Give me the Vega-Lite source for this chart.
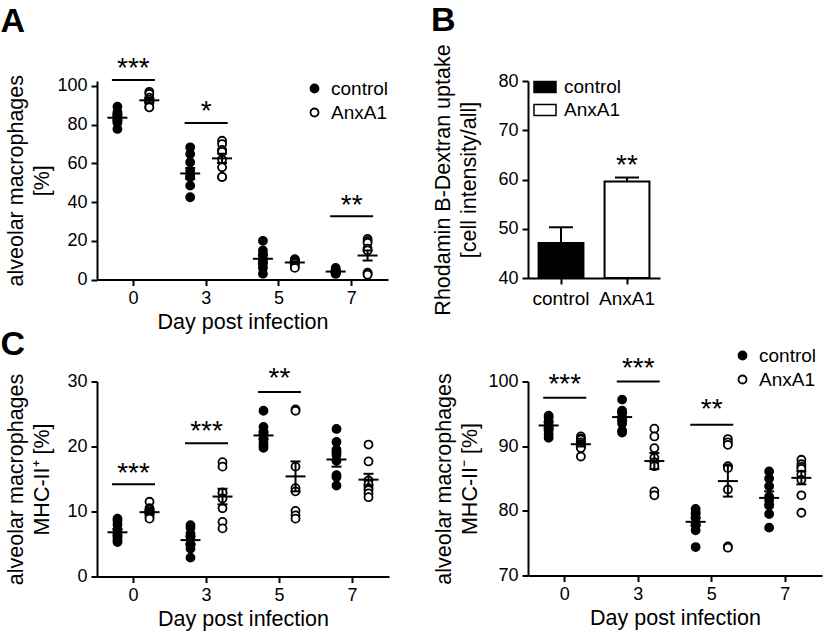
{
  "$schema": "https://vega.github.io/schema/vega-lite/v6.json",
  "background": "white",
  "padding": {"left": 0, "top": 4, "right": 5, "bottom": 5},
  "bounds": "flush",
  "align": "each",
  "columns": 2,
  "spacing": {"row": 101.5, "column": 139},
  "resolve": {
    "scale": {"x": "independent", "y": "independent", "fill": "independent", "xOffset": "independent"},
    "axis": {"x": "independent", "y": "independent"},
    "legend": {"fill": "independent"}
  },
  "config": {
    "font": "Liberation Sans",
    "view": {"stroke": null},
    "axis": {
      "domainColor": "black", "domainWidth": 2, "tickColor": "black", "tickWidth": 2, "tickSize": 6,
      "labelColor": "black", "labelFontSize": 18, "labelPadding": 4, "labelFont": "Liberation Sans", "labelOverlap": false,
      "titleColor": "black", "titleFontSize": 21.5, "titleFontWeight": "normal", "titleFont": "Liberation Sans",
      "grid": false
    },
    "legend": {
      "labelFontSize": 19, "labelColor": "black", "labelFont": "Liberation Sans", "padding": 0, "rowPadding": 4,
      "labelOffset": 7, "symbolStrokeColor": "black", "symbolStrokeWidth": 1.8
    },
    "title": {"fontSize": 34, "fontWeight": "bold", "anchor": "start", "frame": "bounds", "color": "black", "font": "Liberation Sans"}
  },
  "datasets": {
    "a_pts": [
      {"day": "0", "group": "control", "value": 89.3}, {"day": "0", "group": "control", "value": 86.4},
      {"day": "0", "group": "control", "value": 85.5}, {"day": "0", "group": "control", "value": 84},
      {"day": "0", "group": "control", "value": 83.5}, {"day": "0", "group": "control", "value": 82},
      {"day": "0", "group": "control", "value": 81}, {"day": "0", "group": "control", "value": 77.8},
      {"day": "0", "group": "AnxA1", "value": 97}, {"day": "0", "group": "AnxA1", "value": 96},
      {"day": "0", "group": "AnxA1", "value": 94}, {"day": "0", "group": "AnxA1", "value": 93},
      {"day": "0", "group": "AnxA1", "value": 92}, {"day": "0", "group": "AnxA1", "value": 91},
      {"day": "0", "group": "AnxA1", "value": 89}, {"day": "0", "group": "AnxA1", "value": 89},
      {"day": "3", "group": "control", "value": 68.3}, {"day": "3", "group": "control", "value": 64.9},
      {"day": "3", "group": "control", "value": 60.6}, {"day": "3", "group": "control", "value": 56.2},
      {"day": "3", "group": "control", "value": 53.6}, {"day": "3", "group": "control", "value": 52.8},
      {"day": "3", "group": "control", "value": 48.5}, {"day": "3", "group": "control", "value": 42.5},
      {"day": "3", "group": "AnxA1", "value": 71.7}, {"day": "3", "group": "AnxA1", "value": 70},
      {"day": "3", "group": "AnxA1", "value": 67}, {"day": "3", "group": "AnxA1", "value": 66},
      {"day": "3", "group": "AnxA1", "value": 62}, {"day": "3", "group": "AnxA1", "value": 58},
      {"day": "3", "group": "AnxA1", "value": 53}, {"day": "3", "group": "AnxA1", "value": 53},
      {"day": "5", "group": "control", "value": 20}, {"day": "5", "group": "control", "value": 15},
      {"day": "5", "group": "control", "value": 13}, {"day": "5", "group": "control", "value": 11},
      {"day": "5", "group": "control", "value": 10}, {"day": "5", "group": "control", "value": 8},
      {"day": "5", "group": "control", "value": 6}, {"day": "5", "group": "control", "value": 3},
      {"day": "5", "group": "AnxA1", "value": 10.5}, {"day": "5", "group": "AnxA1", "value": 10},
      {"day": "5", "group": "AnxA1", "value": 10}, {"day": "5", "group": "AnxA1", "value": 9.5},
      {"day": "5", "group": "AnxA1", "value": 9}, {"day": "5", "group": "AnxA1", "value": 8.5},
      {"day": "5", "group": "AnxA1", "value": 7}, {"day": "5", "group": "AnxA1", "value": 6},
      {"day": "7", "group": "control", "value": 6}, {"day": "7", "group": "control", "value": 5},
      {"day": "7", "group": "control", "value": 4.5}, {"day": "7", "group": "control", "value": 4},
      {"day": "7", "group": "control", "value": 4}, {"day": "7", "group": "control", "value": 3.5},
      {"day": "7", "group": "control", "value": 3}, {"day": "7", "group": "control", "value": 3},
      {"day": "7", "group": "AnxA1", "value": 21}, {"day": "7", "group": "AnxA1", "value": 20},
      {"day": "7", "group": "AnxA1", "value": 19}, {"day": "7", "group": "AnxA1", "value": 16},
      {"day": "7", "group": "AnxA1", "value": 15}, {"day": "7", "group": "AnxA1", "value": 3.5},
      {"day": "7", "group": "AnxA1", "value": 3}, {"day": "7", "group": "AnxA1", "value": 2.5}
    ],
    "a_sum": [
      {"day": "0", "group": "control", "mean": 83.6, "lo": 82.3, "hi": 84.9},
      {"day": "0", "group": "AnxA1", "mean": 92.6, "lo": 91.5, "hi": 93.7},
      {"day": "3", "group": "control", "mean": 54.8, "lo": 52.0, "hi": 57.6},
      {"day": "3", "group": "AnxA1", "mean": 62.6, "lo": 60.2, "hi": 65.0},
      {"day": "5", "group": "control", "mean": 10.7, "lo": 8.7, "hi": 12.7},
      {"day": "5", "group": "AnxA1", "mean": 8.8, "lo": 8.2, "hi": 9.4},
      {"day": "7", "group": "control", "mean": 4.1, "lo": 3.7, "hi": 4.5},
      {"day": "7", "group": "AnxA1", "mean": 12.4, "lo": 9.8, "hi": 15.0}
    ],
    "a_sig": [
      {"day": "0", "line": 103.1, "star_y": 111.4, "label": "***"},
      {"day": "3", "line": 80.9, "star_y": 89, "label": "*"},
      {"day": "7", "line": 32.7, "star_y": 40.7, "label": "**"}
    ],
    "b_bars": [
      {"group": "control", "mean": 47.1, "hi": 50.3},
      {"group": "AnxA1", "mean": 59.6, "hi": 60.4}
    ],
    "b_sig": [
      {"group": "AnxA1", "star_y": 63.8, "label": "**"}
    ],
    "c1_pts": [
      {"day": "0", "group": "control", "value": 8.9}, {"day": "0", "group": "control", "value": 8.6},
      {"day": "0", "group": "control", "value": 8.0}, {"day": "0", "group": "control", "value": 7.2},
      {"day": "0", "group": "control", "value": 6.6}, {"day": "0", "group": "control", "value": 6.0},
      {"day": "0", "group": "control", "value": 5.6}, {"day": "0", "group": "control", "value": 5.3},
      {"day": "0", "group": "AnxA1", "value": 11.5}, {"day": "0", "group": "AnxA1", "value": 10.5},
      {"day": "0", "group": "AnxA1", "value": 10.3}, {"day": "0", "group": "AnxA1", "value": 10},
      {"day": "0", "group": "AnxA1", "value": 9.8}, {"day": "0", "group": "AnxA1", "value": 9.6},
      {"day": "0", "group": "AnxA1", "value": 9.2}, {"day": "0", "group": "AnxA1", "value": 8.9},
      {"day": "3", "group": "control", "value": 7.9}, {"day": "3", "group": "control", "value": 7.5},
      {"day": "3", "group": "control", "value": 6.6}, {"day": "3", "group": "control", "value": 6.1},
      {"day": "3", "group": "control", "value": 5.0}, {"day": "3", "group": "control", "value": 4.8},
      {"day": "3", "group": "control", "value": 4.3}, {"day": "3", "group": "control", "value": 2.9},
      {"day": "3", "group": "AnxA1", "value": 17.6}, {"day": "3", "group": "AnxA1", "value": 16.9},
      {"day": "3", "group": "AnxA1", "value": 12.9}, {"day": "3", "group": "AnxA1", "value": 12.9},
      {"day": "3", "group": "AnxA1", "value": 12}, {"day": "3", "group": "AnxA1", "value": 10.5},
      {"day": "3", "group": "AnxA1", "value": 8.4}, {"day": "3", "group": "AnxA1", "value": 7.4},
      {"day": "5", "group": "control", "value": 25.5}, {"day": "5", "group": "control", "value": 23},
      {"day": "5", "group": "control", "value": 22.2}, {"day": "5", "group": "control", "value": 21.8},
      {"day": "5", "group": "control", "value": 21.2}, {"day": "5", "group": "control", "value": 20.6},
      {"day": "5", "group": "control", "value": 20.2}, {"day": "5", "group": "control", "value": 19.8},
      {"day": "5", "group": "AnxA1", "value": 25.7}, {"day": "5", "group": "AnxA1", "value": 25.5},
      {"day": "5", "group": "AnxA1", "value": 16.9}, {"day": "5", "group": "AnxA1", "value": 13.6},
      {"day": "5", "group": "AnxA1", "value": 13.1}, {"day": "5", "group": "AnxA1", "value": 10.1},
      {"day": "5", "group": "AnxA1", "value": 9.4}, {"day": "5", "group": "AnxA1", "value": 8.9},
      {"day": "7", "group": "control", "value": 22.7}, {"day": "7", "group": "control", "value": 20.7},
      {"day": "7", "group": "control", "value": 19.5}, {"day": "7", "group": "control", "value": 18.7},
      {"day": "7", "group": "control", "value": 17.8}, {"day": "7", "group": "control", "value": 15.6},
      {"day": "7", "group": "control", "value": 15.3}, {"day": "7", "group": "control", "value": 14.0},
      {"day": "7", "group": "AnxA1", "value": 20.3}, {"day": "7", "group": "AnxA1", "value": 17.7},
      {"day": "7", "group": "AnxA1", "value": 14.8}, {"day": "7", "group": "AnxA1", "value": 14.2},
      {"day": "7", "group": "AnxA1", "value": 13.6}, {"day": "7", "group": "AnxA1", "value": 13.3},
      {"day": "7", "group": "AnxA1", "value": 12.8}, {"day": "7", "group": "AnxA1", "value": 12.2}
    ],
    "c1_sum": [
      {"day": "0", "group": "control", "mean": 6.8, "lo": 6.3, "hi": 7.3},
      {"day": "0", "group": "AnxA1", "mean": 9.9, "lo": 9.6, "hi": 10.2},
      {"day": "3", "group": "control", "mean": 5.6, "lo": 5.0, "hi": 6.2},
      {"day": "3", "group": "AnxA1", "mean": 12.3, "lo": 11.1, "hi": 13.5},
      {"day": "5", "group": "control", "mean": 21.7, "lo": 21.1, "hi": 22.3},
      {"day": "5", "group": "AnxA1", "mean": 15.4, "lo": 13.1, "hi": 17.7},
      {"day": "7", "group": "control", "mean": 18.0, "lo": 16.9, "hi": 19.1},
      {"day": "7", "group": "AnxA1", "mean": 14.9, "lo": 14.0, "hi": 15.8}
    ],
    "c1_sig": [
      {"day": "0", "line": 14.2, "star_y": 16.5, "label": "***"},
      {"day": "3", "line": 20.5, "star_y": 23, "label": "***"},
      {"day": "5", "line": 28.4, "star_y": 31.2, "label": "**"}
    ],
    "c2_pts": [
      {"day": "0", "group": "control", "value": 94.7}, {"day": "0", "group": "control", "value": 94.4},
      {"day": "0", "group": "control", "value": 93.8}, {"day": "0", "group": "control", "value": 93.2},
      {"day": "0", "group": "control", "value": 92.9}, {"day": "0", "group": "control", "value": 92.4},
      {"day": "0", "group": "control", "value": 91.8}, {"day": "0", "group": "control", "value": 91.3},
      {"day": "0", "group": "AnxA1", "value": 91.5}, {"day": "0", "group": "AnxA1", "value": 91.2},
      {"day": "0", "group": "AnxA1", "value": 91.0}, {"day": "0", "group": "AnxA1", "value": 90.6},
      {"day": "0", "group": "AnxA1", "value": 90.3}, {"day": "0", "group": "AnxA1", "value": 89.9},
      {"day": "0", "group": "AnxA1", "value": 89.7}, {"day": "0", "group": "AnxA1", "value": 88.4},
      {"day": "3", "group": "control", "value": 97.2}, {"day": "3", "group": "control", "value": 95.5},
      {"day": "3", "group": "control", "value": 95.3}, {"day": "3", "group": "control", "value": 94.6},
      {"day": "3", "group": "control", "value": 94.2}, {"day": "3", "group": "control", "value": 93.5},
      {"day": "3", "group": "control", "value": 92.4}, {"day": "3", "group": "control", "value": 92.1},
      {"day": "3", "group": "AnxA1", "value": 92.7}, {"day": "3", "group": "AnxA1", "value": 91.5},
      {"day": "3", "group": "AnxA1", "value": 89.7}, {"day": "3", "group": "AnxA1", "value": 88.2},
      {"day": "3", "group": "AnxA1", "value": 87.5}, {"day": "3", "group": "AnxA1", "value": 86.9},
      {"day": "3", "group": "AnxA1", "value": 83.0}, {"day": "3", "group": "AnxA1", "value": 82.4},
      {"day": "5", "group": "control", "value": 80.3}, {"day": "5", "group": "control", "value": 79.8},
      {"day": "5", "group": "control", "value": 79.5}, {"day": "5", "group": "control", "value": 78.9},
      {"day": "5", "group": "control", "value": 78.0}, {"day": "5", "group": "control", "value": 77.8},
      {"day": "5", "group": "control", "value": 77.0}, {"day": "5", "group": "control", "value": 74.4},
      {"day": "5", "group": "AnxA1", "value": 91.1}, {"day": "5", "group": "AnxA1", "value": 90.6},
      {"day": "5", "group": "AnxA1", "value": 90.2}, {"day": "5", "group": "AnxA1", "value": 86.9},
      {"day": "5", "group": "AnxA1", "value": 86.6}, {"day": "5", "group": "AnxA1", "value": 83.3},
      {"day": "5", "group": "AnxA1", "value": 74.5}, {"day": "5", "group": "AnxA1", "value": 74.3},
      {"day": "7", "group": "control", "value": 86.1}, {"day": "7", "group": "control", "value": 85.0},
      {"day": "7", "group": "control", "value": 83.8}, {"day": "7", "group": "control", "value": 82.2},
      {"day": "7", "group": "control", "value": 81.6}, {"day": "7", "group": "control", "value": 80.8},
      {"day": "7", "group": "control", "value": 79.5}, {"day": "7", "group": "control", "value": 77.4},
      {"day": "7", "group": "AnxA1", "value": 87.9}, {"day": "7", "group": "AnxA1", "value": 87.2},
      {"day": "7", "group": "AnxA1", "value": 86.8}, {"day": "7", "group": "AnxA1", "value": 86.5},
      {"day": "7", "group": "AnxA1", "value": 85.6}, {"day": "7", "group": "AnxA1", "value": 84.8},
      {"day": "7", "group": "AnxA1", "value": 82.4}, {"day": "7", "group": "AnxA1", "value": 79.7}
    ],
    "c2_sum": [
      {"day": "0", "group": "control", "mean": 93.2, "lo": 92.7, "hi": 93.7},
      {"day": "0", "group": "AnxA1", "mean": 90.3, "lo": 89.95, "hi": 90.65},
      {"day": "3", "group": "control", "mean": 94.5, "lo": 93.9, "hi": 95.1},
      {"day": "3", "group": "AnxA1", "mean": 87.7, "lo": 86.45, "hi": 88.95},
      {"day": "5", "group": "control", "mean": 78.3, "lo": 77.7, "hi": 78.9},
      {"day": "5", "group": "AnxA1", "mean": 84.6, "lo": 82.2, "hi": 87.0},
      {"day": "7", "group": "control", "mean": 82.0, "lo": 81.0, "hi": 83.0},
      {"day": "7", "group": "AnxA1", "mean": 85.1, "lo": 84.1, "hi": 86.1}
    ],
    "c2_sig": [
      {"day": "0", "line": 97.5, "star_y": 100.2, "label": "***"},
      {"day": "3", "line": 100, "star_y": 102.7, "label": "***"},
      {"day": "5", "line": 93.3, "star_y": 96.3, "label": "**"}
    ]
  },
  "concat": [
    {
      "width": 291, "height": 198.5,
      "title": {"text": "A", "offset": 16.3, "dx": -5},
      "layer": [
        {
          "data": {"name": "a_pts"},
          "mark": {"type": "point", "shape": "circle", "size": 64, "filled": true, "stroke": "black", "strokeWidth": 1.8, "opacity": 1},
          "encoding": {
            "x": {"field": "day", "type": "ordinal", "scale": {"domain": ["0", "3", "5", "7"], "paddingInner": 0, "paddingOuter": 0},
                  "axis": {"title": "Day post infection", "labelAngle": 0, "titlePadding": 4}},
            "xOffset": {"field": "group", "type": "nominal", "scale": {"domain": ["control", "AnxA1"], "paddingInner": 0, "paddingOuter": 0.14}},
            "y": {"field": "value", "type": "quantitative", "scale": {"domain": [0, 102.58], "nice": false, "zero": false},
                  "axis": {"title": ["alveolar macrophages", "[%]"], "values": [0, 20, 40, 60, 80, 100], "labelOverlap": false, "titlePadding": 3.5, "titleLineHeight": 26}},
            "fill": {"field": "group", "type": "nominal", "scale": {"domain": ["control", "AnxA1"], "range": ["black", "white"]},
                     "legend": {"title": null, "orient": "none", "legendX": 208, "legendY": -2, "symbolType": "circle", "symbolSize": 64}}
          }
        },
        {
          "data": {"name": "a_sig"},
          "mark": {"type": "tick", "size": 43, "thickness": 2, "color": "black", "opacity": 1},
          "encoding": {
            "x": {"field": "day", "type": "ordinal", "scale": {"domain": ["0", "3", "5", "7"], "paddingInner": 0, "paddingOuter": 0},
                  "axis": {"title": "Day post infection", "labelAngle": 0, "titlePadding": 4}},
            "y": {"field": "line", "type": "quantitative", "scale": {"domain": [0, 102.58], "nice": false, "zero": false},
                  "axis": {"title": ["alveolar macrophages", "[%]"], "values": [0, 20, 40, 60, 80, 100], "labelOverlap": false, "titlePadding": 3.5, "titleLineHeight": 26}}
          }
        },
        {
          "data": {"name": "a_sig"},
          "mark": {"type": "text", "fontSize": 28, "dy": 5, "color": "black", "baseline": "middle"},
          "encoding": {
            "x": {"field": "day", "type": "ordinal", "scale": {"domain": ["0", "3", "5", "7"], "paddingInner": 0, "paddingOuter": 0},
                  "axis": {"title": "Day post infection", "labelAngle": 0, "titlePadding": 4}},
            "y": {"field": "star_y", "type": "quantitative", "scale": {"domain": [0, 102.58], "nice": false, "zero": false},
                  "axis": {"title": ["alveolar macrophages", "[%]"], "values": [0, 20, 40, 60, 80, 100], "labelOverlap": false, "titlePadding": 3.5, "titleLineHeight": 26}},
            "text": {"field": "label"}
          }
        },
        {
          "data": {"name": "a_sum"},
          "mark": {"type": "rule", "strokeWidth": 2, "color": "black"},
          "encoding": {
            "x": {"field": "day", "type": "ordinal", "scale": {"domain": ["0", "3", "5", "7"], "paddingInner": 0, "paddingOuter": 0},
                  "axis": {"title": "Day post infection", "labelAngle": 0, "titlePadding": 4}},
            "xOffset": {"field": "group", "type": "nominal", "scale": {"domain": ["control", "AnxA1"], "paddingInner": 0, "paddingOuter": 0.14}},
            "y": {"field": "lo", "type": "quantitative", "scale": {"domain": [0, 102.58], "nice": false, "zero": false},
                  "axis": {"title": ["alveolar macrophages", "[%]"], "values": [0, 20, 40, 60, 80, 100], "labelOverlap": false, "titlePadding": 3.5, "titleLineHeight": 26}},
            "y2": {"field": "hi"}
          }
        },
        {
          "data": {"name": "a_sum"},
          "mark": {"type": "tick", "size": 10, "thickness": 2, "color": "black", "opacity": 1},
          "encoding": {
            "x": {"field": "day", "type": "ordinal", "scale": {"domain": ["0", "3", "5", "7"], "paddingInner": 0, "paddingOuter": 0},
                  "axis": {"title": "Day post infection", "labelAngle": 0, "titlePadding": 4}},
            "xOffset": {"field": "group", "type": "nominal", "scale": {"domain": ["control", "AnxA1"], "paddingInner": 0, "paddingOuter": 0.14}},
            "y": {"field": "lo", "type": "quantitative", "scale": {"domain": [0, 102.58], "nice": false, "zero": false},
                  "axis": {"title": ["alveolar macrophages", "[%]"], "values": [0, 20, 40, 60, 80, 100], "labelOverlap": false, "titlePadding": 3.5, "titleLineHeight": 26}}
          }
        },
        {
          "data": {"name": "a_sum"},
          "mark": {"type": "tick", "size": 10, "thickness": 2, "color": "black", "opacity": 1},
          "encoding": {
            "x": {"field": "day", "type": "ordinal", "scale": {"domain": ["0", "3", "5", "7"], "paddingInner": 0, "paddingOuter": 0},
                  "axis": {"title": "Day post infection", "labelAngle": 0, "titlePadding": 4}},
            "xOffset": {"field": "group", "type": "nominal", "scale": {"domain": ["control", "AnxA1"], "paddingInner": 0, "paddingOuter": 0.14}},
            "y": {"field": "hi", "type": "quantitative", "scale": {"domain": [0, 102.58], "nice": false, "zero": false},
                  "axis": {"title": ["alveolar macrophages", "[%]"], "values": [0, 20, 40, 60, 80, 100], "labelOverlap": false, "titlePadding": 3.5, "titleLineHeight": 26}}
          }
        },
        {
          "data": {"name": "a_sum"},
          "mark": {"type": "tick", "size": 20, "thickness": 2, "color": "black", "opacity": 1},
          "encoding": {
            "x": {"field": "day", "type": "ordinal", "scale": {"domain": ["0", "3", "5", "7"], "paddingInner": 0, "paddingOuter": 0},
                  "axis": {"title": "Day post infection", "labelAngle": 0, "titlePadding": 4}},
            "xOffset": {"field": "group", "type": "nominal", "scale": {"domain": ["control", "AnxA1"], "paddingInner": 0, "paddingOuter": 0.14}},
            "y": {"field": "mean", "type": "quantitative", "scale": {"domain": [0, 102.58], "nice": false, "zero": false},
                  "axis": {"title": ["alveolar macrophages", "[%]"], "values": [0, 20, 40, 60, 80, 100], "labelOverlap": false, "titlePadding": 3.5, "titleLineHeight": 26}}
          }
        }
      ]
    },
    {
      "width": 132, "height": 197,
      "title": {"text": "B", "offset": 5.5, "dx": -2},
      "layer": [
        {
          "data": {"name": "b_bars"},
          "mark": {"type": "bar", "stroke": "black", "strokeWidth": 2, "opacity": 1},
          "encoding": {
            "x": {"field": "group", "type": "nominal", "scale": {"domain": ["control", "AnxA1"], "paddingInner": 0.32, "paddingOuter": 0.16},
                  "axis": {"title": null, "labelAngle": 0, "labelFontSize": 19, "labelPadding": 5}},
            "y": {"field": "mean", "type": "quantitative", "scale": {"domain": [40, 80], "nice": false, "zero": false},
                  "axis": {"title": ["Rhodamin B-Dextran uptake", "[cell intensity/all]"], "values": [40, 50, 60, 70, 80], "labelOverlap": false, "titlePadding": 17, "titleLineHeight": 26}},
            "y2": {"datum": 40},
            "fill": {"field": "group", "type": "nominal", "scale": {"domain": ["control", "AnxA1"], "range": ["black", "white"]},
                     "legend": {"title": null, "orient": "none", "legendX": 5, "legendY": -6, "rowPadding": 1, "symbolType": "M-1,-0.5H1V0.5H-1Z", "symbolSize": 484, "symbolStrokeWidth": 1.5}}
          }
        },
        {
          "data": {"name": "b_bars"},
          "mark": {"type": "rule", "strokeWidth": 2, "color": "black"},
          "encoding": {
            "x": {"field": "group", "type": "nominal", "scale": {"domain": ["control", "AnxA1"], "paddingInner": 0.32, "paddingOuter": 0.16},
                  "axis": {"title": null, "labelAngle": 0, "labelFontSize": 19, "labelPadding": 5}},
            "y": {"field": "mean", "type": "quantitative", "scale": {"domain": [40, 80], "nice": false, "zero": false},
                  "axis": {"title": ["Rhodamin B-Dextran uptake", "[cell intensity/all]"], "values": [40, 50, 60, 70, 80], "labelOverlap": false, "titlePadding": 17, "titleLineHeight": 26}},
            "y2": {"field": "hi"}
          }
        },
        {
          "data": {"name": "b_bars"},
          "mark": {"type": "tick", "size": 24, "thickness": 2, "color": "black", "opacity": 1},
          "encoding": {
            "x": {"field": "group", "type": "nominal", "scale": {"domain": ["control", "AnxA1"], "paddingInner": 0.32, "paddingOuter": 0.16},
                  "axis": {"title": null, "labelAngle": 0, "labelFontSize": 19, "labelPadding": 5}},
            "y": {"field": "hi", "type": "quantitative", "scale": {"domain": [40, 80], "nice": false, "zero": false},
                  "axis": {"title": ["Rhodamin B-Dextran uptake", "[cell intensity/all]"], "values": [40, 50, 60, 70, 80], "labelOverlap": false, "titlePadding": 17, "titleLineHeight": 26}}
          }
        },
        {
          "data": {"name": "b_sig"},
          "mark": {"type": "text", "fontSize": 28, "dy": 5, "color": "black", "baseline": "middle"},
          "encoding": {
            "x": {"field": "group", "type": "nominal", "scale": {"domain": ["control", "AnxA1"], "paddingInner": 0.32, "paddingOuter": 0.16},
                  "axis": {"title": null, "labelAngle": 0, "labelFontSize": 19, "labelPadding": 5}},
            "y": {"field": "star_y", "type": "quantitative", "scale": {"domain": [40, 80], "nice": false, "zero": false},
                  "axis": {"title": ["Rhodamin B-Dextran uptake", "[cell intensity/all]"], "values": [40, 50, 60, 70, 80], "labelOverlap": false, "titlePadding": 17, "titleLineHeight": 26}},
            "text": {"field": "label"}
          }
        }
      ]
    },
    {
      "width": 292, "height": 195,
      "title": {"text": "C", "offset": 2.5, "dx": -5},
      "layer": [
        {
          "data": {"name": "c1_pts"},
          "mark": {"type": "point", "shape": "circle", "size": 64, "filled": true, "stroke": "black", "strokeWidth": 1.8, "opacity": 1},
          "encoding": {
            "x": {"field": "day", "type": "ordinal", "scale": {"domain": ["0", "3", "5", "7"], "paddingInner": 0, "paddingOuter": 0},
                  "axis": {"title": "Day post infection", "labelAngle": 0, "titlePadding": 4}},
            "xOffset": {"field": "group", "type": "nominal", "scale": {"domain": ["control", "AnxA1"], "paddingInner": 0, "paddingOuter": 0.14}},
            "y": {"field": "value", "type": "quantitative", "scale": {"domain": [0, 30], "nice": false, "zero": false},
                  "axis": {"title": ["alveolar macrophages", "MHC-II⁺ [%]"], "values": [0, 10, 20, 30], "labelOverlap": false, "titlePadding": 13.5, "titleLineHeight": 26}},
            "fill": {"field": "group", "type": "nominal", "scale": {"domain": ["control", "AnxA1"], "range": ["black", "white"]}, "legend": null}
          }
        },
        {
          "data": {"name": "c1_sig"},
          "mark": {"type": "tick", "size": 43, "thickness": 2, "color": "black", "opacity": 1},
          "encoding": {
            "x": {"field": "day", "type": "ordinal", "scale": {"domain": ["0", "3", "5", "7"], "paddingInner": 0, "paddingOuter": 0},
                  "axis": {"title": "Day post infection", "labelAngle": 0, "titlePadding": 4}},
            "y": {"field": "line", "type": "quantitative", "scale": {"domain": [0, 30], "nice": false, "zero": false},
                  "axis": {"title": ["alveolar macrophages", "MHC-II⁺ [%]"], "values": [0, 10, 20, 30], "labelOverlap": false, "titlePadding": 13.5, "titleLineHeight": 26}}
          }
        },
        {
          "data": {"name": "c1_sig"},
          "mark": {"type": "text", "fontSize": 28, "dy": 5, "color": "black", "baseline": "middle"},
          "encoding": {
            "x": {"field": "day", "type": "ordinal", "scale": {"domain": ["0", "3", "5", "7"], "paddingInner": 0, "paddingOuter": 0},
                  "axis": {"title": "Day post infection", "labelAngle": 0, "titlePadding": 4}},
            "y": {"field": "star_y", "type": "quantitative", "scale": {"domain": [0, 30], "nice": false, "zero": false},
                  "axis": {"title": ["alveolar macrophages", "MHC-II⁺ [%]"], "values": [0, 10, 20, 30], "labelOverlap": false, "titlePadding": 13.5, "titleLineHeight": 26}},
            "text": {"field": "label"}
          }
        },
        {
          "data": {"name": "c1_sum"},
          "mark": {"type": "rule", "strokeWidth": 2, "color": "black"},
          "encoding": {
            "x": {"field": "day", "type": "ordinal", "scale": {"domain": ["0", "3", "5", "7"], "paddingInner": 0, "paddingOuter": 0},
                  "axis": {"title": "Day post infection", "labelAngle": 0, "titlePadding": 4}},
            "xOffset": {"field": "group", "type": "nominal", "scale": {"domain": ["control", "AnxA1"], "paddingInner": 0, "paddingOuter": 0.14}},
            "y": {"field": "lo", "type": "quantitative", "scale": {"domain": [0, 30], "nice": false, "zero": false},
                  "axis": {"title": ["alveolar macrophages", "MHC-II⁺ [%]"], "values": [0, 10, 20, 30], "labelOverlap": false, "titlePadding": 13.5, "titleLineHeight": 26}},
            "y2": {"field": "hi"}
          }
        },
        {
          "data": {"name": "c1_sum"},
          "mark": {"type": "tick", "size": 10, "thickness": 2, "color": "black", "opacity": 1},
          "encoding": {
            "x": {"field": "day", "type": "ordinal", "scale": {"domain": ["0", "3", "5", "7"], "paddingInner": 0, "paddingOuter": 0},
                  "axis": {"title": "Day post infection", "labelAngle": 0, "titlePadding": 4}},
            "xOffset": {"field": "group", "type": "nominal", "scale": {"domain": ["control", "AnxA1"], "paddingInner": 0, "paddingOuter": 0.14}},
            "y": {"field": "lo", "type": "quantitative", "scale": {"domain": [0, 30], "nice": false, "zero": false},
                  "axis": {"title": ["alveolar macrophages", "MHC-II⁺ [%]"], "values": [0, 10, 20, 30], "labelOverlap": false, "titlePadding": 13.5, "titleLineHeight": 26}}
          }
        },
        {
          "data": {"name": "c1_sum"},
          "mark": {"type": "tick", "size": 10, "thickness": 2, "color": "black", "opacity": 1},
          "encoding": {
            "x": {"field": "day", "type": "ordinal", "scale": {"domain": ["0", "3", "5", "7"], "paddingInner": 0, "paddingOuter": 0},
                  "axis": {"title": "Day post infection", "labelAngle": 0, "titlePadding": 4}},
            "xOffset": {"field": "group", "type": "nominal", "scale": {"domain": ["control", "AnxA1"], "paddingInner": 0, "paddingOuter": 0.14}},
            "y": {"field": "hi", "type": "quantitative", "scale": {"domain": [0, 30], "nice": false, "zero": false},
                  "axis": {"title": ["alveolar macrophages", "MHC-II⁺ [%]"], "values": [0, 10, 20, 30], "labelOverlap": false, "titlePadding": 13.5, "titleLineHeight": 26}}
          }
        },
        {
          "data": {"name": "c1_sum"},
          "mark": {"type": "tick", "size": 20, "thickness": 2, "color": "black", "opacity": 1},
          "encoding": {
            "x": {"field": "day", "type": "ordinal", "scale": {"domain": ["0", "3", "5", "7"], "paddingInner": 0, "paddingOuter": 0},
                  "axis": {"title": "Day post infection", "labelAngle": 0, "titlePadding": 4}},
            "xOffset": {"field": "group", "type": "nominal", "scale": {"domain": ["control", "AnxA1"], "paddingInner": 0, "paddingOuter": 0.14}},
            "y": {"field": "mean", "type": "quantitative", "scale": {"domain": [0, 30], "nice": false, "zero": false},
                  "axis": {"title": ["alveolar macrophages", "MHC-II⁺ [%]"], "values": [0, 10, 20, 30], "labelOverlap": false, "titlePadding": 13.5, "titleLineHeight": 26}}
          }
        }
      ]
    },
    {
      "width": 294, "height": 194,
      "layer": [
        {
          "data": {"name": "c2_pts"},
          "mark": {"type": "point", "shape": "circle", "size": 64, "filled": true, "stroke": "black", "strokeWidth": 1.8, "opacity": 1},
          "encoding": {
            "x": {"field": "day", "type": "ordinal", "scale": {"domain": ["0", "3", "5", "7"], "paddingInner": 0, "paddingOuter": 0},
                  "axis": {"title": "Day post infection", "labelAngle": 0, "titlePadding": 4}},
            "xOffset": {"field": "group", "type": "nominal", "scale": {"domain": ["control", "AnxA1"], "paddingInner": 0, "paddingOuter": 0.14}},
            "y": {"field": "value", "type": "quantitative", "scale": {"domain": [70, 100], "nice": false, "zero": false},
                  "axis": {"title": ["alveolar macrophages", "MHC-II⁻ [%]"], "values": [70, 80, 90, 100], "labelOverlap": false, "titlePadding": 6, "titleLineHeight": 26}},
            "fill": {"field": "group", "type": "nominal", "scale": {"domain": ["control", "AnxA1"], "range": ["black", "white"]},
                     "legend": {"title": null, "orient": "none", "legendX": 205, "legendY": -35.5, "symbolType": "circle", "symbolSize": 64}}
          }
        },
        {
          "data": {"name": "c2_sig"},
          "mark": {"type": "tick", "size": 43, "thickness": 2, "color": "black", "opacity": 1},
          "encoding": {
            "x": {"field": "day", "type": "ordinal", "scale": {"domain": ["0", "3", "5", "7"], "paddingInner": 0, "paddingOuter": 0},
                  "axis": {"title": "Day post infection", "labelAngle": 0, "titlePadding": 4}},
            "y": {"field": "line", "type": "quantitative", "scale": {"domain": [70, 100], "nice": false, "zero": false},
                  "axis": {"title": ["alveolar macrophages", "MHC-II⁻ [%]"], "values": [70, 80, 90, 100], "labelOverlap": false, "titlePadding": 6, "titleLineHeight": 26}}
          }
        },
        {
          "data": {"name": "c2_sig"},
          "mark": {"type": "text", "fontSize": 28, "dy": 5, "color": "black", "baseline": "middle"},
          "encoding": {
            "x": {"field": "day", "type": "ordinal", "scale": {"domain": ["0", "3", "5", "7"], "paddingInner": 0, "paddingOuter": 0},
                  "axis": {"title": "Day post infection", "labelAngle": 0, "titlePadding": 4}},
            "y": {"field": "star_y", "type": "quantitative", "scale": {"domain": [70, 100], "nice": false, "zero": false},
                  "axis": {"title": ["alveolar macrophages", "MHC-II⁻ [%]"], "values": [70, 80, 90, 100], "labelOverlap": false, "titlePadding": 6, "titleLineHeight": 26}},
            "text": {"field": "label"}
          }
        },
        {
          "data": {"name": "c2_sum"},
          "mark": {"type": "rule", "strokeWidth": 2, "color": "black"},
          "encoding": {
            "x": {"field": "day", "type": "ordinal", "scale": {"domain": ["0", "3", "5", "7"], "paddingInner": 0, "paddingOuter": 0},
                  "axis": {"title": "Day post infection", "labelAngle": 0, "titlePadding": 4}},
            "xOffset": {"field": "group", "type": "nominal", "scale": {"domain": ["control", "AnxA1"], "paddingInner": 0, "paddingOuter": 0.14}},
            "y": {"field": "lo", "type": "quantitative", "scale": {"domain": [70, 100], "nice": false, "zero": false},
                  "axis": {"title": ["alveolar macrophages", "MHC-II⁻ [%]"], "values": [70, 80, 90, 100], "labelOverlap": false, "titlePadding": 6, "titleLineHeight": 26}},
            "y2": {"field": "hi"}
          }
        },
        {
          "data": {"name": "c2_sum"},
          "mark": {"type": "tick", "size": 10, "thickness": 2, "color": "black", "opacity": 1},
          "encoding": {
            "x": {"field": "day", "type": "ordinal", "scale": {"domain": ["0", "3", "5", "7"], "paddingInner": 0, "paddingOuter": 0},
                  "axis": {"title": "Day post infection", "labelAngle": 0, "titlePadding": 4}},
            "xOffset": {"field": "group", "type": "nominal", "scale": {"domain": ["control", "AnxA1"], "paddingInner": 0, "paddingOuter": 0.14}},
            "y": {"field": "lo", "type": "quantitative", "scale": {"domain": [70, 100], "nice": false, "zero": false},
                  "axis": {"title": ["alveolar macrophages", "MHC-II⁻ [%]"], "values": [70, 80, 90, 100], "labelOverlap": false, "titlePadding": 6, "titleLineHeight": 26}}
          }
        },
        {
          "data": {"name": "c2_sum"},
          "mark": {"type": "tick", "size": 10, "thickness": 2, "color": "black", "opacity": 1},
          "encoding": {
            "x": {"field": "day", "type": "ordinal", "scale": {"domain": ["0", "3", "5", "7"], "paddingInner": 0, "paddingOuter": 0},
                  "axis": {"title": "Day post infection", "labelAngle": 0, "titlePadding": 4}},
            "xOffset": {"field": "group", "type": "nominal", "scale": {"domain": ["control", "AnxA1"], "paddingInner": 0, "paddingOuter": 0.14}},
            "y": {"field": "hi", "type": "quantitative", "scale": {"domain": [70, 100], "nice": false, "zero": false},
                  "axis": {"title": ["alveolar macrophages", "MHC-II⁻ [%]"], "values": [70, 80, 90, 100], "labelOverlap": false, "titlePadding": 6, "titleLineHeight": 26}}
          }
        },
        {
          "data": {"name": "c2_sum"},
          "mark": {"type": "tick", "size": 20, "thickness": 2, "color": "black", "opacity": 1},
          "encoding": {
            "x": {"field": "day", "type": "ordinal", "scale": {"domain": ["0", "3", "5", "7"], "paddingInner": 0, "paddingOuter": 0},
                  "axis": {"title": "Day post infection", "labelAngle": 0, "titlePadding": 4}},
            "xOffset": {"field": "group", "type": "nominal", "scale": {"domain": ["control", "AnxA1"], "paddingInner": 0, "paddingOuter": 0.14}},
            "y": {"field": "mean", "type": "quantitative", "scale": {"domain": [70, 100], "nice": false, "zero": false},
                  "axis": {"title": ["alveolar macrophages", "MHC-II⁻ [%]"], "values": [70, 80, 90, 100], "labelOverlap": false, "titlePadding": 6, "titleLineHeight": 26}}
          }
        }
      ]
    }
  ]
}
